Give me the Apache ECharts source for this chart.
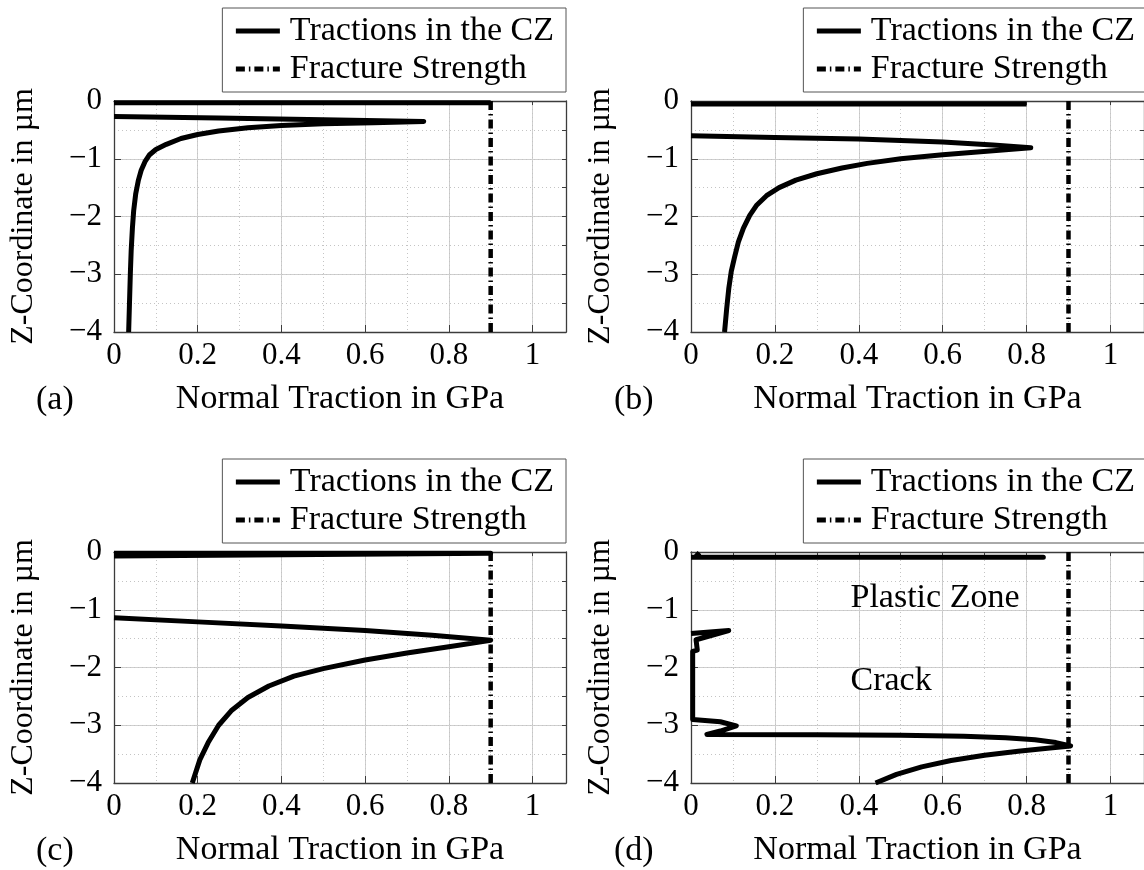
<!DOCTYPE html>
<html>
<head>
<meta charset="utf-8">
<script src="https://cdn.jsdelivr.net/npm/echarts@6/dist/echarts.min.js"></script>
<style>
  html, body { margin: 0; padding: 0; background: #fff; }
  #main { width: 1144px; height: 870px; }
</style>
</head>
<body>
<div id="main"></div>
<script>
// normal traction (GPa) against z-coordinate (µm)
// '-' breaks the line where the reference has no segment along the border
const tractionA = [
  [0.9, -0.03], [0, -0.03], ['-', '-'],
  [0, -0.27], [0.25, -0.295], [0.5, -0.325], [0.74, -0.355], [0.62, -0.375], [0.5, -0.395],
  [0.4, -0.425], [0.32, -0.465], [0.25, -0.52], [0.2, -0.58], [0.16, -0.65], [0.125, -0.75],
  [0.1, -0.84], [0.085, -0.93], [0.074, -1.05], [0.065, -1.2], [0.058, -1.38], [0.052, -1.6],
  [0.047, -1.9], [0.044, -2.2], [0.041, -2.6], [0.039, -3.0], [0.037, -3.5], [0.035, -4]
];
const tractionB = [
  [0.8, -0.05], [0, -0.05], ['-', '-'],
  [0, -0.6], [0.2, -0.63], [0.4, -0.66], [0.6, -0.71], [0.72, -0.76], [0.81, -0.81],
  [0.72, -0.86], [0.6, -0.93], [0.5, -1.0], [0.42, -1.08], [0.36, -1.16], [0.3, -1.26],
  [0.25, -1.37], [0.21, -1.5], [0.18, -1.64], [0.157, -1.8], [0.14, -1.98], [0.125, -2.2],
  [0.113, -2.44], [0.104, -2.7], [0.096, -2.95], [0.09, -3.25], [0.085, -3.6], [0.08, -4]
];
const tractionC = [
  [0, -0.02], [0.9, -0.02], [0, -0.07], ['-', '-'],
  [0, -1.14], [0.2, -1.21], [0.4, -1.28], [0.6, -1.36], [0.76, -1.44], [0.9, -1.53],
  [0.8, -1.64], [0.7, -1.75], [0.6, -1.87], [0.5, -2.02], [0.43, -2.15], [0.37, -2.32],
  [0.32, -2.52], [0.28, -2.75], [0.25, -3.0], [0.225, -3.3], [0.205, -3.6], [0.187, -4]
];
const tractionD = [
  [0.02, -0.01], [0.01, -0.09], [0.84, -0.09], [0, -0.09], ['-', '-'],
  [0, -1.41], [0.09, -1.36], [0.012, -1.52], [0.015, -1.7], [0.004, -1.72], [0.004, -2.9],
  [0.07, -2.94], [0.108, -3.01], [0.07, -3.1], [0.038, -3.16], [0.3, -3.165], [0.5, -3.175],
  [0.65, -3.19], [0.75, -3.215], [0.82, -3.25], [0.87, -3.3], [0.905, -3.36], [0.85, -3.4],
  [0.78, -3.45], [0.7, -3.52], [0.62, -3.61], [0.55, -3.72], [0.49, -3.85], [0.44, -4]
];
const fractureStrength = [[0.9, 0], [0.9, -4]];
const zoneLabels = [
  {value: [0.379, -0.8], name: 'Plastic Zone'},
  {value: [0.379, -2.24], name: 'Crack'}
];
const panelTags = ['(a)', '(b)', '(c)', '(d)'];
const seriesNames = ['Tractions in the CZ', 'Fracture Strength'];
const xName = 'Normal Traction in GPa';
const yName = 'Z-Coordinate in µm';

const W = 1144;
const font = 'Liberation Serif';
const gridBoxes = [
  {left: 114, top: 101, width: 452, height: 231},
  {left: 691, top: 101, width: 454, height: 231},
  {left: 114, top: 552, width: 452, height: 231},
  {left: 691, top: 552, width: 454, height: 231}
];
const traces = [tractionA, tractionB, tractionC, tractionD];

const chart = echarts.init(document.getElementById('main'), null, {renderer: 'canvas'});

const borderCol = '#3c3c3c';
const majorGrid = {show: true, lineStyle: {color: '#cfcfcf', width: 1, type: 'solid'}};
const minorGrid = {show: true, lineStyle: {color: '#c4c4c4', width: 1, type: [1, 3]}};

let grid = [], xAxis = [], yAxis = [], series = [], legend = [], title = [];

gridBoxes.forEach((g, i) => {
  grid.push({left: g.left, top: g.top, width: g.width, height: g.height, containLabel: false, show: false});

  // bottom axis: labels + solid grid
  xAxis.push({
    type: 'value', gridIndex: i, position: 'bottom', min: 0, max: 1.08, interval: 0.2,
    name: xName, nameLocation: 'middle', nameGap: 50,
    nameTextStyle: {fontFamily: font, fontSize: 34, color: '#000'},
    axisLine: {show: true, onZero: false, lineStyle: {color: borderCol, width: 1.3}},
    axisTick: {show: true, inside: true, length: 7, lineStyle: {color: borderCol}},
    axisLabel: {show: true, showMaxLabel: false, margin: 8, fontFamily: font, fontSize: 31, color: '#000',
      formatter: v => String(v)},
    splitLine: majorGrid
  });
  // top axis: dotted minor grid
  xAxis.push({
    type: 'value', gridIndex: i, position: 'top', min: 0, max: 1.08, interval: 0.1,
    axisLine: {show: true, onZero: false, lineStyle: {color: borderCol, width: 1.3}},
    axisTick: {show: true, inside: true, length: 4, lineStyle: {color: borderCol}},
    axisLabel: {show: false},
    splitLine: minorGrid
  });
  yAxis.push({
    type: 'value', gridIndex: i, position: 'left', min: -4, max: 0, interval: 1,
    name: yName, nameLocation: 'middle', nameGap: 74, nameRotate: 90,
    nameTextStyle: {fontFamily: font, fontSize: 32, color: '#000'},
    axisLine: {show: true, onZero: false, lineStyle: {color: borderCol, width: 1.3}},
    axisTick: {show: true, inside: true, length: 7, lineStyle: {color: borderCol}},
    axisLabel: {show: true, margin: 12, fontFamily: font, fontSize: 31, color: '#000',
      formatter: v => (v < 0 ? '\u2212' + Math.abs(v) : String(v))},
    splitLine: majorGrid
  });
  yAxis.push({
    type: 'value', gridIndex: i, position: 'right', min: -4, max: 0, interval: 0.5,
    axisLine: {show: true, onZero: false, lineStyle: {color: borderCol, width: 1.3}},
    axisTick: {show: true, inside: true, length: 4, lineStyle: {color: borderCol}},
    axisLabel: {show: false},
    splitLine: minorGrid
  });

  series.push({
    type: 'line', name: seriesNames[0], xAxisIndex: 2 * i, yAxisIndex: 2 * i,
    data: traces[i], symbol: 'none', clip: true, z: 4, connectNulls: false,
    lineStyle: {color: '#000', width: 5, join: 'round', cap: 'butt'},
    itemStyle: {color: '#000'}
  });
  series.push({
    type: 'line', name: seriesNames[1], xAxisIndex: 2 * i, yAxisIndex: 2 * i,
    data: fractureStrength, symbol: 'none', clip: true, z: 3,
    lineStyle: {color: '#000', width: 4.5, type: [9, 4, 1.5, 4], cap: 'butt'},
    itemStyle: {color: '#000'}
  });

  legend.push({
    orient: 'vertical', align: 'left', right: W - (g.left + g.width) - (i % 2 === 1 ? 2 : 0),
    top: g.top - 93,
    data: seriesNames, selectedMode: false,
    itemWidth: 44, itemHeight: 14, itemGap: 4,
    padding: [6, 12, 6, 11],
    itemStyle: {opacity: 0},
    lineStyle: {width: 5, color: '#000'},
    backgroundColor: '#fff', borderColor: '#555', borderWidth: 1, borderRadius: 0,
    textStyle: {fontFamily: font, fontSize: 34, color: '#000', lineHeight: 34, padding: [0, 0, 0, 5]}
  });

  title.push({
    text: panelTags[i], left: (i % 2 === 0 ? 36 : 614), top: g.top + g.height + 51, padding: 0,
    textStyle: {fontFamily: font, fontSize: 34, fontWeight: 'normal', color: '#000'}
  });
});

// region annotations inside panel (d)
series.push({
  type: 'scatter', name: 'zoneLabels', xAxisIndex: 6, yAxisIndex: 6,
  data: zoneLabels, symbol: 'circle', symbolSize: 1, z: 5,
  itemStyle: {color: 'transparent', opacity: 1},
  label: {show: true, position: 'right', distance: 0, formatter: p => p.name,
    fontFamily: font, fontSize: 34, color: '#000', opacity: 1}
});

chart.setOption({
  animation: false,
  backgroundColor: '#fff',
  textStyle: {fontFamily: font},
  title, legend, grid, xAxis, yAxis, series
});
</script>
</body>
</html>
